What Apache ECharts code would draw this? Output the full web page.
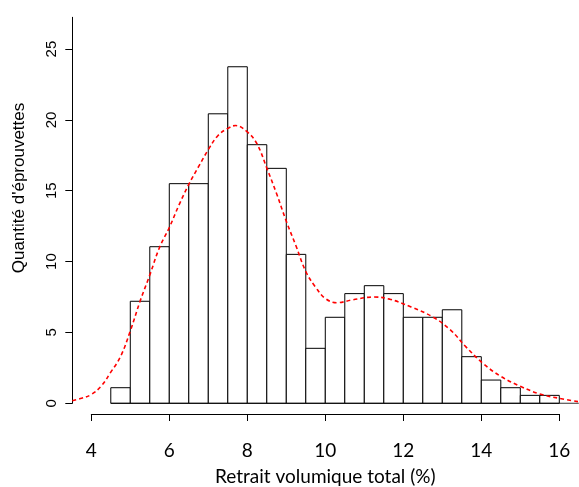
<!DOCTYPE html>
<html>
<head>
<meta charset="utf-8">
<script src="https://cdn.jsdelivr.net/npm/echarts@6/dist/echarts.min.js"></script>
<style>
html,body{margin:0;padding:0;background:#fff;}
#c{width:579px;height:487px;}
</style>
</head>
<body>
<div id="c"></div>
<script>
// Histogram bins (width 0.5) and their heights
const binStarts = [4.5,5,5.5,6,6.5,7,7.5,8,8.5,9,9.5,10,10.5,11,11.5,12,12.5,13,13.5,14,14.5,15,15.5];
const binWidth = 0.5;
const binValues = [1.10,7.20,11.05,15.50,15.50,20.43,23.75,18.25,16.58,10.51,3.88,6.07,7.74,8.30,7.74,6.07,6.07,6.60,3.29,1.64,1.10,0.56,0.56];

// Density curve
const densX = [3.513,3.75,4.0,4.25,4.5,4.75,5.0,5.25,5.5,5.75,6.0,6.25,6.5,6.75,7.0,7.25,7.5,7.7,8.0,8.25,8.5,8.75,9.0,9.25,9.5,9.75,10.0,10.3,10.7,11.25,11.65,12.2,12.75,13.2,13.6,14.05,14.5,15.0,15.5,16.0,16.5];
const densY = [0.18,0.35,0.62,1.2,2.2,3.3,5.1,7.2,9.05,11.0,12.4,14.0,15.45,16.7,17.9,18.9,19.4,19.6,19.15,18.3,16.6,14.8,12.85,11.1,9.3,8.2,7.4,7.1,7.3,7.5,7.35,6.8,6.1,5.2,4.0,2.8,1.9,1.2,0.66,0.35,0.11];

// Axis ticks
const xTicks = [4,6,8,10,12,14,16];
const yTicks = [0,5,10,15,20,25];
const xTitle = 'Retrait volumique total (%)';
const yTitle = "Quantité d'éprouvettes";

const plotXMin = 3.513, plotXMax = 16.5, plotYMax = 27.24;

const histData = binStarts.map((s, i) => [s, s + binWidth, binValues[i]]);
const densData = densX.map((x, i) => [x, densY[i]]);
const baseData = [[binStarts[0], 0], [plotXMax, 0]];

const chart = echarts.init(document.getElementById('c'), null, {renderer: 'canvas'});
chart.setOption({
  animation: false,
  backgroundColor: '#fff',
  grid: [
    {left: 72.3, right: 0.2, top: 17.3, bottom: 83.7},
    {left: 91.3, right: 19.7, top: 400, bottom: 66.3}
  ],
  xAxis: [
    {gridIndex: 0, type: 'value', min: plotXMin, max: plotXMax, show: false},
    {
      gridIndex: 1, type: 'value', min: 4, max: 16, interval: 2, position: 'bottom',
      axisLine: {show: true, onZero: false, lineStyle: {color: '#000', width: 1}},
      axisTick: {show: true, length: 7, lineStyle: {color: '#000'}},
      splitLine: {show: false},
      axisLabel: {color: '#000', fontFamily: 'Lato', fontSize: 19, margin: 27,
                  customValues: xTicks},
      name: xTitle, nameLocation: 'middle', nameGap: 53,
      nameTextStyle: {color: '#000', fontFamily: 'Lato', fontSize: 19}
    }
  ],
  yAxis: [
    {
      gridIndex: 0, type: 'value', min: 0, max: plotYMax,
      axisLine: {show: true, lineStyle: {color: '#000', width: 1}},
      axisTick: {show: true, length: 7, lineStyle: {color: '#000'}, customValues: yTicks},
      axisLabel: {color: '#000', fontFamily: 'Liberation Sans', fontSize: 15, rotate: 90, margin: 13,
                  customValues: yTicks},
      splitLine: {show: false}
    },
    {gridIndex: 1, type: 'value', show: false}
  ],
  graphic: [{
    type: 'text', x: 19, y: 188, rotation: Math.PI / 2,
    style: {text: yTitle, fontFamily: 'Liberation Sans', fontSize: 17, fill: '#000',
            textAlign: 'center', textVerticalAlign: 'middle'}
  }],
  series: [
    {
      type: 'custom', xAxisIndex: 0, yAxisIndex: 0,
      data: histData,
      renderItem: function (params, api) {
        const p0 = api.coord([api.value(0), 0]);
        const p1 = api.coord([api.value(1), api.value(2)]);
        return {
          type: 'rect',
          shape: {x: p0[0], y: p1[1], width: p1[0] - p0[0], height: p0[1] - p1[1]},
          style: {fill: '#fff', stroke: '#000', lineWidth: 1}
        };
      },
      encode: {x: [0, 1], y: 2},
      z: 2
    },
    {
      type: 'line', xAxisIndex: 0, yAxisIndex: 0, data: baseData,
      symbol: 'none', lineStyle: {color: '#000', width: 1}, z: 3
    },
    {
      type: 'line', xAxisIndex: 0, yAxisIndex: 0, data: densData,
      smooth: 0.4, symbol: 'none',
      lineStyle: {color: '#ff0000', width: 1.6, type: [4, 3]}, z: 4
    }
  ]
});
</script>
</body>
</html>
